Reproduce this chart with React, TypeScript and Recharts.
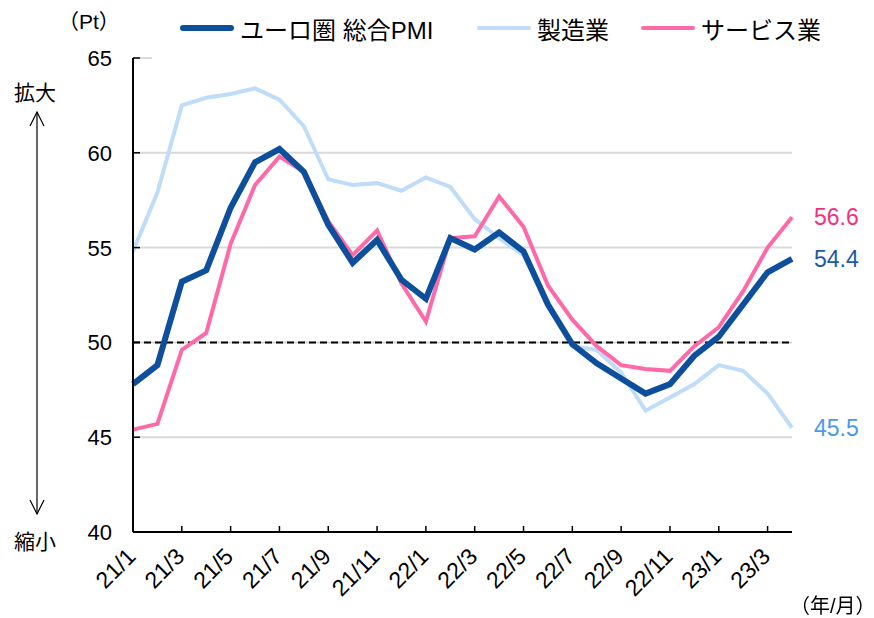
import React from "react";
import {
  LineChart,
  Line,
  XAxis,
  YAxis,
  CartesianGrid,
  ReferenceLine,
} from "recharts";

const FONT = '"Liberation Sans", Arial, "Noto Sans CJK JP", sans-serif';

const months = [
  "21/1", "21/2", "21/3", "21/4", "21/5", "21/6", "21/7", "21/8", "21/9", "21/10", "21/11", "21/12",
  "22/1", "22/2", "22/3", "22/4", "22/5", "22/6", "22/7", "22/8", "22/9", "22/10", "22/11", "22/12",
  "23/1", "23/2", "23/3", "23/4",
];

const composite = [
  47.8, 48.8, 53.2, 53.8, 57.1, 59.5, 60.2, 59.0, 56.2, 54.2, 55.4, 53.3,
  52.3, 55.5, 54.9, 55.8, 54.8, 52.0, 49.9, 48.9, 48.1, 47.3, 47.8, 49.3,
  50.3, 52.0, 53.7, 54.4,
];

const manufacturing = [
  54.8, 57.9, 62.5, 62.9, 63.1, 63.4, 62.8, 61.4, 58.6, 58.3, 58.4, 58.0,
  58.7, 58.2, 56.5, 55.5, 54.6, 52.1, 49.8, 49.6, 48.4, 46.4, 47.1, 47.8,
  48.8, 48.5, 47.3, 45.5,
];

const services = [
  45.4, 45.7, 49.6, 50.5, 55.2, 58.3, 59.8, 59.0, 56.4, 54.6, 55.9, 53.1,
  51.1, 55.5, 55.6, 57.7, 56.1, 53.0, 51.2, 49.8, 48.8, 48.6, 48.5, 49.8,
  50.8, 52.7, 55.0, 56.6,
];

const yTicks = [40, 45, 50, 55, 60, 65];

const series = [
  { key: "composite", name: "ユーロ圏 総合PMI", color: "#0D4F9C", width: 6, labelColor: "#1A5AA6", legendX: 180 },
  { key: "manufacturing", name: "製造業", color: "#BFDDF8", width: 4, labelColor: "#4A98EE", legendX: 477 },
  { key: "services", name: "サービス業", color: "#FF69A8", width: 4, labelColor: "#F5307F", legendX: 641 },
];

const data = months.map((m, i) => ({
  month: m,
  composite: composite[i],
  manufacturing: manufacturing[i],
  services: services[i],
}));

const last = months.length - 1;

const XTick = ({ x, y, payload }) => (
  <g>
    <line x1={x} y1={y} x2={x} y2={y - 6} stroke="#000" strokeWidth={1.5} />
    <text
      x={x + 4}
      y={y + 26}
      transform={`rotate(-45, ${x + 4}, ${y + 26})`}
      textAnchor="end"
      fontSize={23}
      fontFamily={FONT}
      fill="#000"
    >
      {payload.value}
    </text>
  </g>
);

const YTick = ({ x, y, payload }) => (
  <g>
    <line x1={x} y1={y} x2={x + 7} y2={y} stroke="#000" strokeWidth={1.5} />
    <text x={x - 21} y={y + 8} textAnchor="end" fontSize={22} fontFamily={FONT} fill="#000">
      {payload.value}
    </text>
  </g>
);

const endLabel = (color, value) => (props) => {
  const { x, y, index } = props;
  if (index !== last) return null;
  return (
    <text x={x + 22} y={y + 8} fontSize={23} fontFamily={FONT} fill={color}>
      {value.toFixed(1)}
    </text>
  );
};

export default function App() {
  const lastVals = { composite: composite[last], manufacturing: manufacturing[last], services: services[last] };
  return (
    <div style={{ position: "fixed", left: 0, top: 0, width: 874, height: 618, background: "#fff" }}>
      <LineChart
        width={874}
        height={618}
        data={data}
        margin={{ top: 58, right: 82, bottom: 26, left: 83 }}
      >
        <CartesianGrid horizontal vertical={false} stroke="#d9d9d9" strokeWidth={2} />
        <XAxis
          dataKey="month"
          interval={1}
          tickLine={false}
          tickSize={0}
          tickMargin={0}
          height={60}
          axisLine={{ stroke: "#000", strokeWidth: 2 }}
          tick={<XTick />}
        />
        <YAxis
          domain={[40, 65]}
          ticks={yTicks}
          width={50}
          tickLine={false}
          tickSize={0}
          tickMargin={0}
          axisLine={{ stroke: "#000", strokeWidth: 2 }}
          tick={<YTick />}
        />
        <ReferenceLine y={50} stroke="#000" strokeWidth={2} strokeDasharray="7 4" />
        {[series[1], series[2], series[0]].map((s) => (
          <Line
            key={s.key}
            dataKey={s.key}
            name={s.name}
            stroke={s.color}
            strokeWidth={s.width}
            dot={false}
            activeDot={false}
            isAnimationActive={false}
            strokeLinejoin="miter"
            label={endLabel(s.labelColor, lastVals[s.key])}
          />
        ))}
      </LineChart>
      {/* white box behind the legend hides the 65 gridline, like the original */}
      <div style={{ position: "absolute", left: 152, top: 8, width: 722, height: 52, background: "#fff" }} />
      {series.map((s) => (
        <div
          key={s.key}
          style={{
            position: "absolute",
            left: s.legendX,
            top: 12,
            height: 32,
            display: "flex",
            alignItems: "center",
            fontFamily: FONT,
            fontSize: 24,
            color: "#000",
            whiteSpace: "nowrap",
          }}
        >
          <div style={{ width: 54, height: s.width, background: s.color, borderRadius: 3, marginRight: 6 }} />
          <span>{s.name}</span>
        </div>
      ))}
      <div style={{ position: "absolute", left: 58, top: 5, fontFamily: FONT, fontSize: 21 }}>（Pt）</div>
      <div style={{ position: "absolute", left: 790, top: 590, fontFamily: FONT, fontSize: 20, whiteSpace: "nowrap" }}>（年/月）</div>
      <div style={{ position: "absolute", left: 14, top: 76, fontFamily: FONT, fontSize: 21 }}>拡大</div>
      <div style={{ position: "absolute", left: 14, top: 525, fontFamily: FONT, fontSize: 21 }}>縮小</div>
      <svg style={{ position: "absolute", left: 0, top: 0 }} width={80} height={618}>
        <line x1={37} y1={112} x2={37} y2={514} stroke="#000" strokeWidth={1.2} />
        <polyline points="30,126 37,112 44,126" fill="none" stroke="#000" strokeWidth={1.2} />
        <polyline points="30,500 37,514 44,500" fill="none" stroke="#000" strokeWidth={1.2} />
      </svg>
    </div>
  );
}
